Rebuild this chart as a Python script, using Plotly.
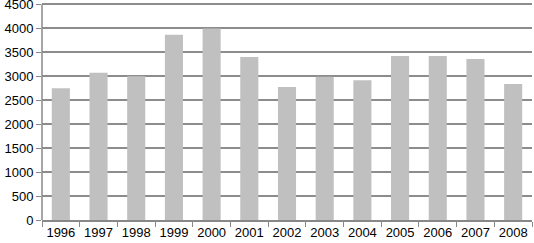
import plotly.graph_objects as go

years = ["1996", "1997", "1998", "1999", "2000", "2001", "2002",
         "2003", "2004", "2005", "2006", "2007", "2008"]
values = [2750, 3075, 3000, 3865, 3995, 3400, 2775,
          2990, 2915, 3420, 3420, 3360, 2840]
y_ticks = [0, 500, 1000, 1500, 2000, 2500, 3000, 3500, 4000, 4500]

fig = go.Figure(go.Bar(x=years, y=values, marker=dict(color="#c0c0c0", line=dict(width=0))))

fig.update_layout(
    width=534, height=243,
    margin=dict(l=42, r=2, t=1, b=23),
    plot_bgcolor="white", paper_bgcolor="white",
    bargap=0.52,
    showlegend=False,
    font=dict(family="Liberation Sans, Arial, sans-serif", size=13, color="#000"),
)
fig.update_xaxes(
    showline=True, linecolor="#888", linewidth=1.5,
    ticks="outside", ticklen=5, tickcolor="#888", tickwidth=1,
    tickson="boundaries", showgrid=False, tickangle=0, automargin=False,
)
fig.update_yaxes(
    range=[0, 4570], tickvals=y_ticks, ticklabeloverflow="allow",
    showline=False,
    ticks="outside", ticklen=5, tickcolor="#888",
    showgrid=True, gridcolor="#8c8c8c", gridwidth=1.5,
    zeroline=False, automargin=False,
)
# left axis line from 0 to 4500 only
fig.add_shape(type="line", xref="paper", yref="y", x0=0, x1=0, y0=0, y1=y_ticks[-1],
              line=dict(color="#888", width=1.5))
fig.write_html("out.html", config={"displayModeBar": False},
               post_script="document.body.style.margin='0';document.body.style.overflow='hidden';")
